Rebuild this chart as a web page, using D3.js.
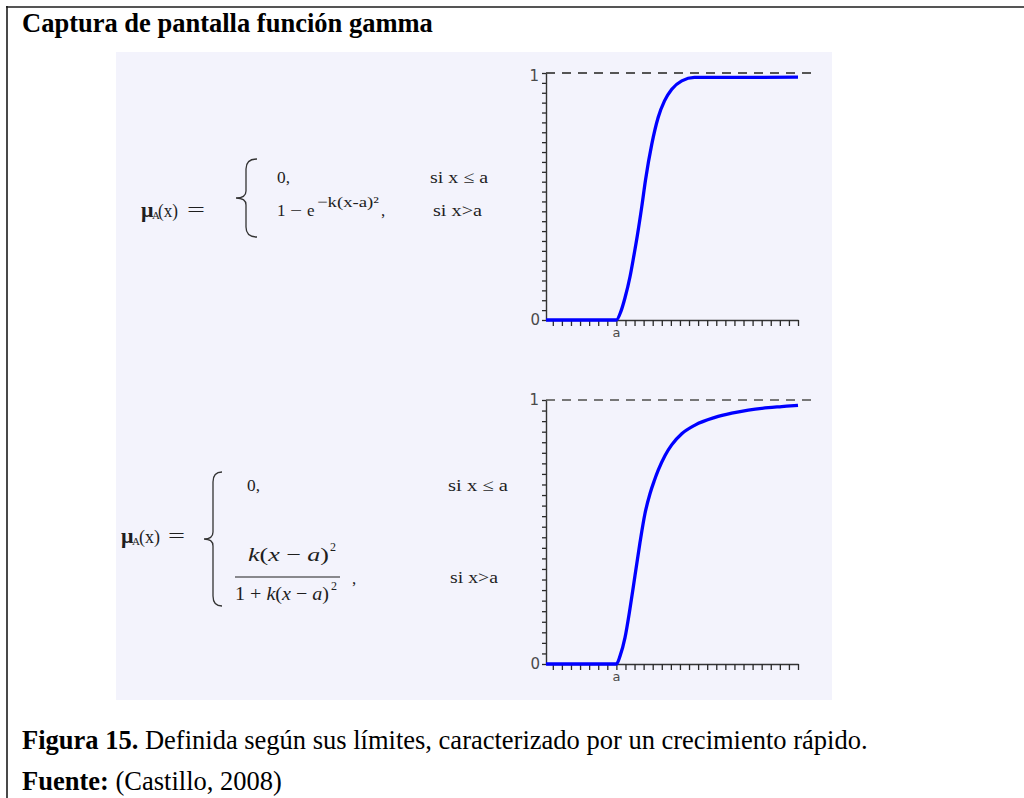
<!DOCTYPE html>
<html>
<head>
<meta charset="utf-8">
<script src="https://cdn.jsdelivr.net/npm/d3@7"></script>
<style>
  html, body { margin: 0; padding: 0; background: #ffffff; }
  svg { display: block; }
</style>
</head>
<body>
<svg id="fig" width="1024" height="798"></svg>
<script>
// ---- data ----
const xTickValues = d3.range(0, 28);              // minor ticks along the x axis
const yTickValues = d3.range(0, 26).map(i => i / 25); // minor ticks along the y axis
const aValue = 7;                                  // position of the threshold "a"
const yTickLabels = ["0", "1"];

// membership 1 - e^{-k(x-a)^2}
const expX = [-0.75, 7.0, 7.5, 7.95, 8.5, 8.9, 9.3, 9.8, 10.2, 10.9, 11.6, 12.3, 13.1, 14.2, 15.6, 27];
const expY = [0, 0, 0.035, 0.09, 0.175, 0.255, 0.34, 0.46, 0.565, 0.712, 0.82, 0.887, 0.934, 0.968, 0.982, 0.983];

// membership k(x-a)^2 / (1 + k(x-a)^2)
const ratX = [-0.75, 7.0, 7.4, 7.95, 8.5, 9.05, 9.6, 10.15, 10.7, 11.18, 11.62, 12.36, 13.09, 14.2, 15.66, 17.86, 19.7, 21.53, 23.73, 25.2, 27.0];
const ratY = [0, 0, 0.03, 0.1, 0.21, 0.335, 0.46, 0.57, 0.645, 0.695, 0.735, 0.79, 0.83, 0.872, 0.905, 0.934, 0.95, 0.962, 0.971, 0.975, 0.98];

// ---- drawing ----
const svg = d3.select("#fig");
const serif = "'Liberation Serif', 'Times New Roman', serif";
const sans = "'DejaVu Sans', sans-serif";

// frame
svg.append("line").attr("x1", 6).attr("x2", 1024).attr("y1", 7).attr("y2", 7)
  .attr("stroke", "#1c1c1c").attr("stroke-width", 1.6);
svg.append("line").attr("x1", 7).attr("x2", 7).attr("y1", 6).attr("y2", 798)
  .attr("stroke", "#1c1c1c").attr("stroke-width", 1.6);

// heading
svg.append("text").attr("x", 22).attr("y", 32)
  .attr("font-family", serif).attr("font-size", 26.5).attr("font-weight", "bold")
  .attr("fill", "#000").text("Captura de pantalla función gamma");

// tinted panel
svg.append("rect").attr("x", 116).attr("y", 52).attr("width", 716).attr("height", 648)
  .attr("fill", "#f3f3fc");

function plot(cfg) {
  const x = d3.scaleLinear().domain([-0.75, 27]).range([546, 798]);
  const y = d3.scaleLinear().domain([0, 1]).range([cfg.y0, cfg.y1]);
  const g = svg.append("g");

  // dashed asymptote at y = 1
  g.append("line")
    .attr("x1", x(-0.75)).attr("x2", x(27) + 17)
    .attr("y1", y(1)).attr("y2", y(1))
    .attr("stroke", cfg.dash).attr("stroke-width", 2)
    .attr("stroke-dasharray", "9,7");

  const xa = g.append("g").attr("transform", `translate(0,${y(0)})`)
    .call(d3.axisBottom(x).tickValues(xTickValues).tickSize(6).tickSizeOuter(0).tickFormat(""));
  const ya = g.append("g").attr("transform", `translate(${x(-0.75)},0)`)
    .call(d3.axisLeft(y).tickValues(yTickValues).tickSize(4).tickSizeOuter(0).tickFormat(""));
  [xa, ya].forEach(ax => {
    ax.select(".domain").attr("stroke", "#333").attr("stroke-width", 1.4);
    ax.selectAll(".tick line").attr("stroke", "#2a2a2a").attr("stroke-width", 1.3);
  });

  // tick labels
  g.append("text").attr("x", x(-0.75) - 6).attr("y", y(0)).attr("dy", "0.36em")
    .attr("text-anchor", "end").attr("font-family", sans).attr("font-size", 15)
    .attr("fill", "#4a4a4a").text(yTickLabels[0]);
  g.append("text").attr("x", x(-0.75) - 7).attr("y", y(1) + cfg.oneShift).attr("dy", "0.36em")
    .attr("text-anchor", "end").attr("font-family", sans).attr("font-size", 15)
    .attr("fill", "#4a4a4a").text(yTickLabels[1]);
  g.append("text").attr("x", x(aValue)).attr("y", y(0) + 17)
    .attr("text-anchor", "middle").attr("font-family", sans).attr("font-size", 13)
    .attr("fill", "#4a4a4a").text("a");

  const pts = cfg.xs.map((v, i) => [v, cfg.ys[i]]);
  g.append("path").datum(pts)
    .attr("fill", "none").attr("stroke", "#0000ff").attr("stroke-width", 3.3)
    .attr("stroke-linejoin", "round")
    .attr("d", d3.line().x(d => x(d[0])).y(d => y(d[1])).curve(d3.curveMonotoneX));
}

plot({ y0: 320, y1: 73, xs: expX, ys: expY, oneShift: 3, dash: "#555" });
plot({ y0: 664, y1: 400, xs: ratX, ys: ratY, oneShift: 0, dash: "#777" });

// ---- formulas ----
const ink = "#1e1e1e";
function t(x, yb, str, size, opts = {}) {
  const el = svg.append("text").attr("x", x).attr("y", yb)
    .attr("font-family", serif).attr("font-size", size).attr("fill", ink)
    .text(str);
  if (opts.len) el.attr("textLength", opts.len).attr("lengthAdjust", "spacingAndGlyphs");
  if (opts.italic) el.attr("font-style", "italic");
  if (opts.bold) el.attr("font-weight", "bold");
  return el;
}
function brace(x0, xm, xt, top, bot) {
  const mid = (top + bot) / 2;
  const p = d3.path();
  p.moveTo(x0, top);
  p.quadraticCurveTo(xm, top, xm, top + 10);
  p.lineTo(xm, mid - 7);
  p.quadraticCurveTo(xm, mid, xt, mid);
  p.quadraticCurveTo(xm, mid, xm, mid + 7);
  p.lineTo(xm, bot - 10);
  p.quadraticCurveTo(xm, bot, x0, bot);
  svg.append("path").attr("d", p.toString()).attr("fill", "none")
    .attr("stroke", "#333").attr("stroke-width", 1.3);
}

// first definition
t(141, 217, "μ", 22, { bold: true });
t(152, 219, "A", 11);
t(158, 217, "(x)", 18, { len: 20 });
t(187, 216, "=", 18, { len: 18 });
brace(257, 246, 236, 159, 237);
t(277, 183, "0,", 17, { len: 13 });
t(277, 216, "1", 17);
t(290, 216, "−", 17, { len: 12 });
t(307, 216, "e", 17);
t(317, 207, "−k(x-a)²", 15, { len: 62 });
t(381, 216, ",", 17);
t(430, 183, "si x ≤ a", 17, { len: 58 });
t(433, 216, "si x>a", 17, { len: 49 });

// second definition
t(121, 543, "μ", 22, { bold: true });
t(132, 545, "A", 11);
t(139, 543, "(x)", 18, { len: 21 });
t(168, 542, "=", 18, { len: 17 });
brace(222, 213, 204, 472, 606);
t(247, 491, "0,", 17, { len: 13 });
t(448, 491, "si x ≤ a", 17, { len: 60 });

const num = svg.append("text").attr("x", 248).attr("y", 561)
  .attr("font-family", serif).attr("font-size", 19).attr("fill", ink)
  .attr("textLength", 81).attr("lengthAdjust", "spacingAndGlyphs");
num.append("tspan").attr("font-style", "italic").text("k");
num.append("tspan").text("(");
num.append("tspan").attr("font-style", "italic").text("x");
num.append("tspan").text(" − ");
num.append("tspan").attr("font-style", "italic").text("a");
num.append("tspan").text(")");
t(330, 551, "2", 12);

svg.append("line").attr("x1", 235).attr("x2", 340).attr("y1", 577).attr("y2", 577)
  .attr("stroke", ink).attr("stroke-width", 1.2);

const den = svg.append("text").attr("x", 235).attr("y", 600)
  .attr("font-family", serif).attr("font-size", 19).attr("fill", ink)
  .attr("textLength", 94).attr("lengthAdjust", "spacingAndGlyphs");
den.append("tspan").text("1 + ");
den.append("tspan").attr("font-style", "italic").text("k");
den.append("tspan").text("(");
den.append("tspan").attr("font-style", "italic").text("x");
den.append("tspan").text(" − ");
den.append("tspan").attr("font-style", "italic").text("a");
den.append("tspan").text(")");
t(331, 590, "2", 12);

t(352, 584, ",", 17);
t(450, 583, "si x>a", 17, { len: 48 });

// ---- caption ----
const cap = svg.append("text").attr("x", 22).attr("y", 749)
  .attr("font-family", serif).attr("font-size", 26.5).attr("fill", "#000");
cap.append("tspan").attr("font-weight", "bold").text("Figura 15.");
cap.append("tspan").text(" Definida según sus límites, caracterizado por un crecimiento rápido.");

const src = svg.append("text").attr("x", 22).attr("y", 790)
  .attr("font-family", serif).attr("font-size", 26.5).attr("fill", "#000");
src.append("tspan").attr("font-weight", "bold").text("Fuente:");
src.append("tspan").text(" (Castillo, 2008)");
</script>
</body>
</html>
